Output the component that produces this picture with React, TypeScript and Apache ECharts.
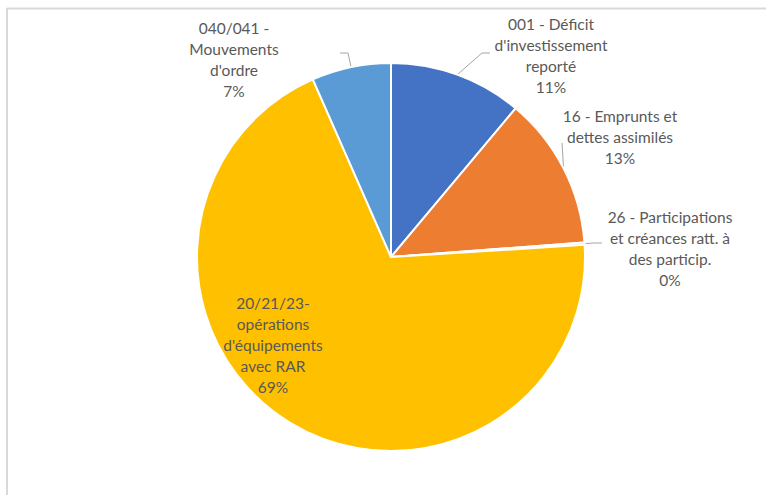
import React, { useEffect, useRef } from "react";
import * as echarts from "echarts";

const categories = [
  "001 - Déficit\nd'investissement\nreporté",
  "16 - Emprunts et\ndettes assimilés",
  "26 - Participations\net créances ratt. à\ndes particip.",
  "20/21/23-\nopérations\nd'équipements\navec RAR",
  "040/041 -\nMouvements\nd'ordre",
];
const shares = [11.1, 12.7, 0.2, 69.4, 6.6];
const colors = ["#4472C4", "#ED7D31", "#A5A5A5", "#FFC000", "#5B9BD5"];
const labelCenters: [number, number][] = [
  [551, 55],
  [620, 137],
  [670, 248],
  [273, 345],
  [234, 59],
];
// leader line elbow / end points (after the slice edge point)
const leaderTails: [number, number][][] = [
  [[482, 53], [490, 53]],
  [[562, 143], [562, 143]],
  [[594, 243], [602, 243]],
  [],
  [[348, 53], [340, 53]],
];

export default function App() {
  const ref = useRef<HTMLDivElement>(null);
  useEffect(() => {
    if (!ref.current) return;
    const chart = echarts.init(ref.current, null, { renderer: "svg" });
    chart.setOption({
      animation: false,
      backgroundColor: "#fff",
      graphic: [
        { type: "line", shape: { x1: 7, y1: 8.5, x2: 766, y2: 8.5 }, style: { stroke: "#D9D9D9", lineWidth: 2 } },
        { type: "line", shape: { x1: 7, y1: 8, x2: 7, y2: 495 }, style: { stroke: "#D9D9D9", lineWidth: 2 } },
      ],
      series: [
        {
          type: "pie",
          center: [391, 257],
          radius: [0, 194],
          startAngle: 90,
          clockwise: true,
          avoidLabelOverlap: false,
          itemStyle: { borderColor: "#fff", borderWidth: 2 },
          label: {
            show: true,
            position: "outside",
            fontFamily: "Lato",
            fontSize: 15.5,
            lineHeight: 21,
            color: "#595959",
            align: "center",
            formatter: (p: any) => `${p.name}\n${Math.round(p.percent)}%`,
          },
          labelLine: {
            show: true,
            length: 10,
            length2: 10,
            lineStyle: { color: "#A6A6A6", width: 1 },
          },
          labelLayout: (p: any) => {
            const c = labelCenters[p.dataIndex];
            const out: any = { x: c[0], y: c[1], align: "center", verticalAlign: "middle" };
            const tail = leaderTails[p.dataIndex];
            if (tail.length && p.labelLinePoints && p.labelLinePoints[0]) {
              out.labelLinePoints = [p.labelLinePoints[0], ...tail];
            }
            return out;
          },
          data: categories.map((name, i) => ({
            name,
            value: shares[i],
            itemStyle: { color: colors[i] },
            labelLine: i === 3 ? { show: false } : undefined,
          })),
        },
      ],
    });
    return () => chart.dispose();
  }, []);
  return (
    <div
      ref={ref}
      style={{ position: "fixed", left: 0, top: 0, width: 766, height: 495 }}
    />
  );
}
